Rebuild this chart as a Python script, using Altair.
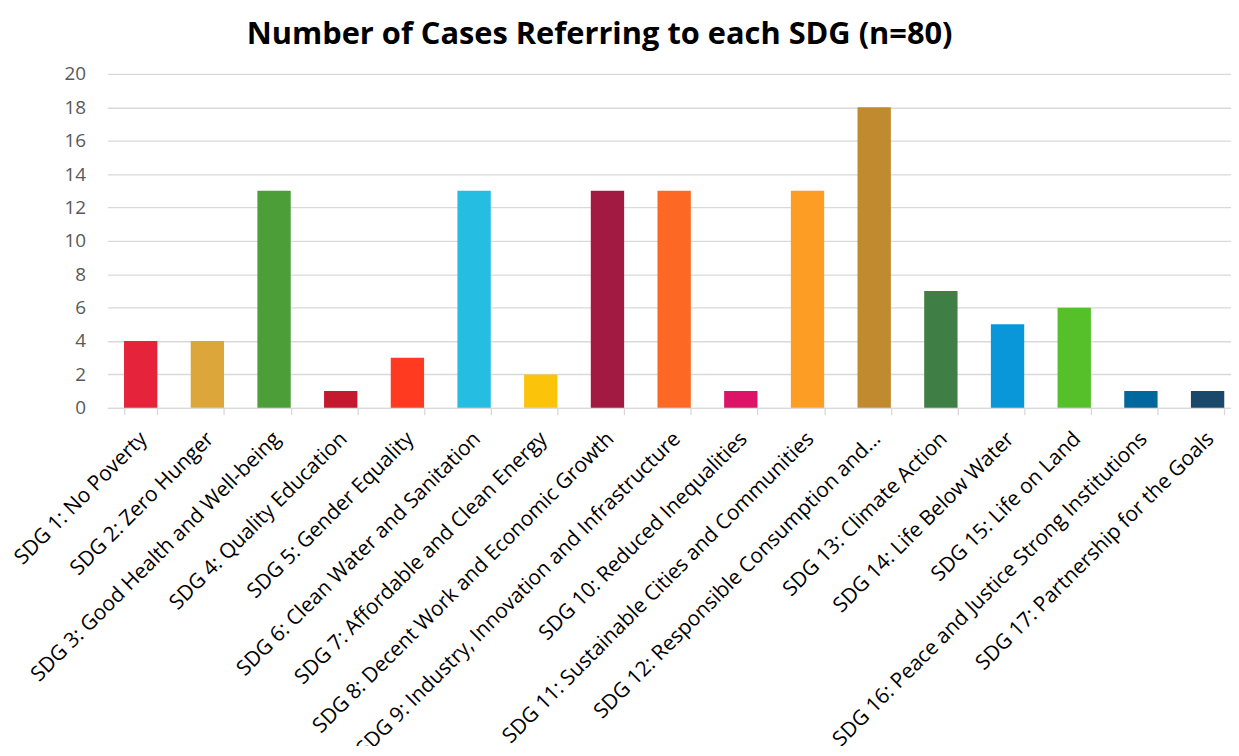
import altair as alt
import pandas as pd

categories = [
    "SDG 1: No Poverty",
    "SDG 2: Zero Hunger",
    "SDG 3: Good Health and Well-being",
    "SDG 4: Quality Education",
    "SDG 5: Gender Equality",
    "SDG 6: Clean Water and Sanitation",
    "SDG 7: Affordable and Clean Energy",
    "SDG 8: Decent Work and Economic Growth",
    "SDG 9: Industry, Innovation and Infrastructure",
    "SDG 10: Reduced Inequalities",
    "SDG 11: Sustainable Cities and Communities",
    "SDG 12: Responsible Consumption and...",
    "SDG 13: Climate Action",
    "SDG 14: Life Below Water",
    "SDG 15: Life on Land",
    "SDG 16: Peace and Justice Strong Institutions",
    "SDG 17: Partnership for the Goals",
]
cases = [4, 4, 13, 1, 3, 13, 2, 13, 13, 1, 13, 18, 7, 5, 6, 1, 1]
colors = [
    "#E5243B", "#DDA63A", "#4C9F38", "#C5192D", "#FF3A21", "#26BDE2",
    "#FCC30B", "#A21942", "#FD6925", "#DD1367", "#FD9D24", "#BF8B2E",
    "#3F7E44", "#0A97D9", "#56C02B", "#00689D", "#19486A",
]
y_ticks = [0, 2, 4, 6, 8, 10, 12, 14, 16, 18, 20]

df = pd.DataFrame({"SDG": categories, "Cases": cases})

FONT = "Open Sans"

chart = (
    alt.Chart(df)
    .mark_bar()
    .encode(
        x=alt.X(
            "SDG:N",
            sort=None,
            scale=alt.Scale(paddingInner=0.5, paddingOuter=0.25, range=[0, 1141]),
            axis=alt.Axis(
                title=None,
                labelAngle=-45,
                labelAlign="right",
                labelBaseline="top",
                labelFontSize=21,
                labelColor="#000000",
                labelFont=FONT,
                labelPadding=13,
                labelOffset=-5,
                labelLimit=700,
                labelOverlap=False,
                domainColor="#d9d9d9",
                domainWidth=1.3,
                tickColor="#d9d9d9",
                tickWidth=1.3,
                tickSize=7,
                tickBand="extent",
                grid=False,
            ),
        ),
        y=alt.Y(
            "Cases:Q",
            scale=alt.Scale(domain=[0, 20], nice=False),
            axis=alt.Axis(
                title=None,
                values=y_ticks,
                domain=False,
                ticks=False,
                labelFontSize=19,
                labelColor="#595959",
                labelFont=FONT,
                labelPadding=22,
                gridColor="#d9d9d9",
                gridWidth=1.3,
            ),
        ),
        color=alt.Color(
            "SDG:N", sort=None, scale=alt.Scale(domain=categories, range=colors), legend=None
        ),
    )
    .properties(
        width=1131,
        height=336,
        title=alt.TitleParams(
            "Number of Cases Referring to each SDG (n=80)",
            font=FONT,
            fontSize=31,
            fontWeight="bold",
            color="#000000",
            anchor="middle",
            dx=-70,
            offset=14,
        ),
        autosize=alt.AutoSizeParams(type="none"),
        padding={"left": 100, "top": 64, "right": 0, "bottom": 338},
    )
    .configure_view(stroke=None)
)

chart.save("out.html", embed_options={"renderer": "svg", "actions": False})
